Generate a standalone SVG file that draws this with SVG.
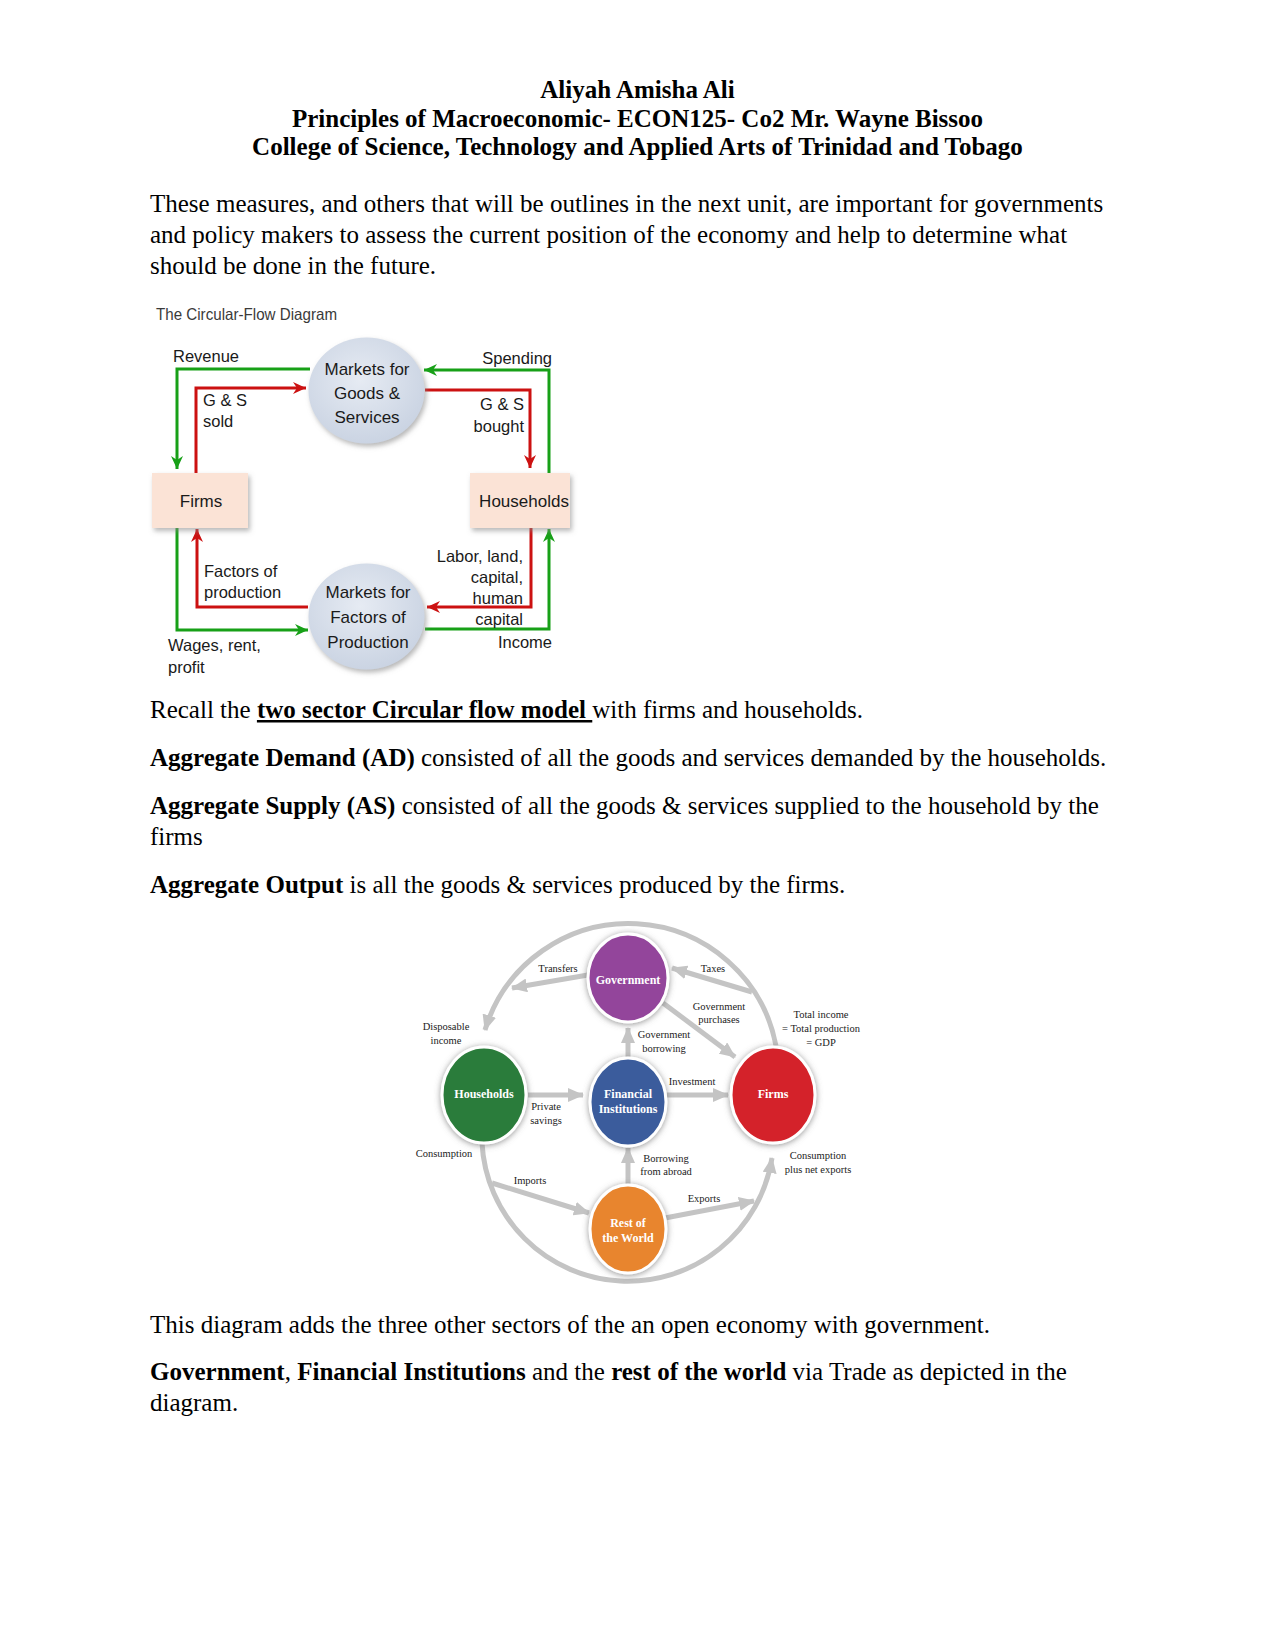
<svg xmlns="http://www.w3.org/2000/svg" width="1275" height="1651" viewBox="0 0 1275 1651">
<style>
.body{font-family:"Liberation Serif","Times New Roman",serif;font-size:25px;fill:#000}
.b{font-weight:bold}
.t{font-family:"Liberation Serif","Times New Roman",serif;font-size:25px;font-weight:bold;text-anchor:middle;fill:#000}
.d1{font-family:"Liberation Sans",Arial,sans-serif;font-size:16.5px;fill:#1a1a1a}
.d1c{font-family:"Liberation Sans",Arial,sans-serif;font-size:17px;fill:#1a1a1a;text-anchor:middle}
.g{fill:none;stroke:#17a017;stroke-width:3}
.r{fill:none;stroke:#cc1111;stroke-width:3}
.ga{fill:none;stroke:#c4c4c4;stroke-width:5}
.lab{font-family:"Liberation Serif","Times New Roman",serif;font-size:10.5px;fill:#222;text-anchor:middle}
.nl{font-family:"Liberation Serif","Times New Roman",serif;font-size:12px;font-weight:bold;fill:#fff;text-anchor:middle}
.ring{stroke:#fff;stroke-width:3}
</style>
<defs>
<marker id="mg" markerUnits="userSpaceOnUse" markerWidth="14" markerHeight="14" refX="13" refY="7" orient="auto" viewBox="0 0 14 14"><path d="M0,1 L13,7 L0,13 L4,7 z" fill="#17a017"/></marker>
<marker id="mr" markerUnits="userSpaceOnUse" markerWidth="14" markerHeight="14" refX="13" refY="7" orient="auto" viewBox="0 0 14 14"><path d="M0,1 L13,7 L0,13 L4,7 z" fill="#cc1111"/></marker>
<marker id="ma" markerUnits="userSpaceOnUse" markerWidth="16" markerHeight="14" refX="15" refY="7" orient="auto" viewBox="0 0 16 14"><path d="M0,0 L16,7 L0,14 z" fill="#c4c4c4"/></marker>
<radialGradient id="cg" cx="0.45" cy="0.4" r="0.7"><stop offset="0" stop-color="#e6ebf3"/><stop offset="1" stop-color="#c6d0e0"/></radialGradient>
<filter id="sh" x="-30%" y="-30%" width="160%" height="160%"><feDropShadow dx="2" dy="3" stdDeviation="2.5" flood-color="#888" flood-opacity="0.6"/></filter>
<filter id="sh2" x="-30%" y="-30%" width="160%" height="160%"><feDropShadow dx="0" dy="1" stdDeviation="3" flood-color="#666" flood-opacity="0.7"/></filter>
</defs>

<g id="header">
<text class="t" x="637.5" y="98">Aliyah Amisha Ali</text>
<text class="t" x="637.5" y="127">Principles of Macroeconomic- ECON125- Co2 Mr. Wayne Bissoo</text>
<text class="t" x="637.5" y="155">College of Science, Technology and Applied Arts of Trinidad and Tobago</text>
</g>

<g id="para1" class="body">
<text x="150" y="212">These measures, and others that will be outlines in the next unit, are important for governments</text>
<text x="150" y="243">and policy makers to assess the current position of the economy and help to determine what</text>
<text x="150" y="274">should be done in the future.</text>
</g>

<text x="156" y="320" font-family="Liberation Sans, Arial, sans-serif" font-size="16.5" fill="#3a3a3a" textLength="181" lengthAdjust="spacingAndGlyphs">The Circular-Flow Diagram</text>

<g id="connectors1">
<path class="g" d="M310,369 H177 V469" marker-end="url(#mg)"/>
<path class="r" d="M196,473 V388 H306" marker-end="url(#mr)"/>
<path class="g" d="M549,473 V370 H424" marker-end="url(#mg)"/>
<path class="r" d="M425,390 H530 V468" marker-end="url(#mr)"/>
<path class="r" d="M308,607 H197 V529" marker-end="url(#mr)"/>
<path class="g" d="M177,528 V630 H308" marker-end="url(#mg)"/>
<path class="r" d="M531,528 V607 H427" marker-end="url(#mr)"/>
<path class="g" d="M425,629 H549 V529" marker-end="url(#mg)"/>
</g>

<g id="markets-goods">
<ellipse cx="366.5" cy="390.5" rx="58" ry="53" fill="url(#cg)" filter="url(#sh)"/>
<text class="d1c" x="367" y="375">Markets for</text>
<text class="d1c" x="367" y="399">Goods &amp;</text>
<text class="d1c" x="367" y="423">Services</text>
</g>
<g id="markets-factors">
<ellipse cx="366.5" cy="616.5" rx="58" ry="53" fill="url(#cg)" filter="url(#sh)"/>
<text class="d1c" x="368" y="598">Markets for</text>
<text class="d1c" x="368" y="623">Factors of</text>
<text class="d1c" x="368" y="648">Production</text>
</g>
<g id="firms1">
<rect x="152" y="473" width="96" height="55" fill="#fbe3d6" filter="url(#sh)"/>
<text class="d1c" x="201" y="507">Firms</text>
</g>
<g id="households1">
<rect x="470" y="473" width="100" height="55" fill="#fbe3d6" filter="url(#sh)"/>
<text class="d1c" x="524" y="507">Households</text>
</g>
<g id="labels1" class="d1">
<text x="173" y="362">Revenue</text>
<text x="552" y="364" text-anchor="end">Spending</text>
<text x="203" y="406">G &amp; S</text>
<text x="203" y="427">sold</text>
<text x="524" y="410" text-anchor="end">G &amp; S</text>
<text x="524" y="432" text-anchor="end">bought</text>
<text x="204" y="577">Factors of</text>
<text x="204" y="598">production</text>
<text x="523" y="562" text-anchor="end">Labor, land,</text>
<text x="523" y="583" text-anchor="end">capital,</text>
<text x="523" y="604" text-anchor="end">human</text>
<text x="523" y="625" text-anchor="end">capital</text>
<text x="552" y="648" text-anchor="end">Income</text>
<text x="168" y="651">Wages, rent,</text>
<text x="168" y="673">profit</text>
</g>

<g id="para2" class="body">
<text x="150" y="718">Recall the <tspan class="b" text-decoration="underline">two sector Circular flow model </tspan>with firms and households.</text>
<text x="150" y="766"><tspan class="b">Aggregate Demand (AD)</tspan> consisted of all the goods and services demanded by the households.</text>
<text x="150" y="814"><tspan class="b">Aggregate Supply (AS)</tspan> consisted of all the goods &amp; services supplied to the household by the</text>
<text x="150" y="845">firms</text>
<text x="150" y="893"><tspan class="b">Aggregate Output</tspan> is all the goods &amp; services produced by the firms.</text>
</g>

<g id="connectors2">
<path class="ga" d="M776,1046 A150,150 0 0 0 485,1030" marker-end="url(#ma)"/>
<path class="ga" d="M482,1143 A146,146 0 0 0 772,1158" marker-end="url(#ma)"/>
<path class="ga" d="M588,975 L512,988" marker-end="url(#ma)"/>
<path class="ga" d="M752,992 L672,968" marker-end="url(#ma)"/>
<path class="ga" d="M663,1003 L735,1057" marker-end="url(#ma)"/>
<path class="ga" d="M628,1058 V1028" marker-end="url(#ma)"/>
<path class="ga" d="M528,1095 H583" marker-end="url(#ma)"/>
<path class="ga" d="M665,1095 H728" marker-end="url(#ma)"/>
<path class="ga" d="M628,1186 V1148" marker-end="url(#ma)"/>
<path class="ga" d="M492,1183 L589,1213" marker-end="url(#ma)"/>
<path class="ga" d="M665,1218 L754,1201" marker-end="url(#ma)"/>
</g>

<g id="government">
<ellipse class="ring" cx="628" cy="978" rx="40" ry="44" fill="#93449b" filter="url(#sh2)"/>
<text class="nl" x="628" y="984">Government</text>
</g>
<g id="households2">
<ellipse class="ring" cx="484" cy="1095" rx="42" ry="48" fill="#2c7c3a" filter="url(#sh2)"/>
<text class="nl" x="484" y="1098">Households</text>
</g>
<g id="financial">
<ellipse class="ring" cx="628" cy="1102" rx="38" ry="44" fill="#3a5c9c" filter="url(#sh2)"/>
<text class="nl" x="628" y="1098">Financial</text>
<text class="nl" x="628" y="1113">Institutions</text>
</g>
<g id="firms2">
<ellipse class="ring" cx="773" cy="1095" rx="42" ry="48" fill="#d4222a" filter="url(#sh2)"/>
<text class="nl" x="773" y="1098">Firms</text>
</g>
<g id="rest-of-world">
<ellipse class="ring" cx="628" cy="1229" rx="38" ry="44" fill="#e8852e" filter="url(#sh2)"/>
<text class="nl" x="628" y="1227">Rest of</text>
<text class="nl" x="628" y="1242">the World</text>
</g>

<g id="labels2">
<text class="lab" x="558" y="972">Transfers</text>
<text class="lab" x="713" y="972">Taxes</text>
<text class="lab" x="719" y="1010">Government</text>
<text class="lab" x="719" y="1023">purchases</text>
<text class="lab" x="664" y="1038">Government</text>
<text class="lab" x="664" y="1052">borrowing</text>
<text class="lab" x="821" y="1018">Total income</text>
<text class="lab" x="821" y="1032">= Total production</text>
<text class="lab" x="821" y="1046">= GDP</text>
<text class="lab" x="692" y="1085">Investment</text>
<text class="lab" x="446" y="1030">Disposable</text>
<text class="lab" x="446" y="1044">income</text>
<text class="lab" x="546" y="1110">Private</text>
<text class="lab" x="546" y="1124">savings</text>
<text class="lab" x="444" y="1157">Consumption</text>
<text class="lab" x="530" y="1184">Imports</text>
<text class="lab" x="666" y="1162">Borrowing</text>
<text class="lab" x="666" y="1175">from abroad</text>
<text class="lab" x="704" y="1202">Exports</text>
<text class="lab" x="818" y="1159">Consumption</text>
<text class="lab" x="818" y="1173">plus net exports</text>
</g>

<g id="para3" class="body">
<text x="150" y="1333">This diagram adds the three other sectors of the an open economy with government.</text>
<text x="150" y="1380"><tspan class="b">Government</tspan>, <tspan class="b">Financial Institutions</tspan> and the <tspan class="b">rest of the world</tspan> via Trade as depicted in the</text>
<text x="150" y="1411">diagram.</text>
</g>
</svg>
